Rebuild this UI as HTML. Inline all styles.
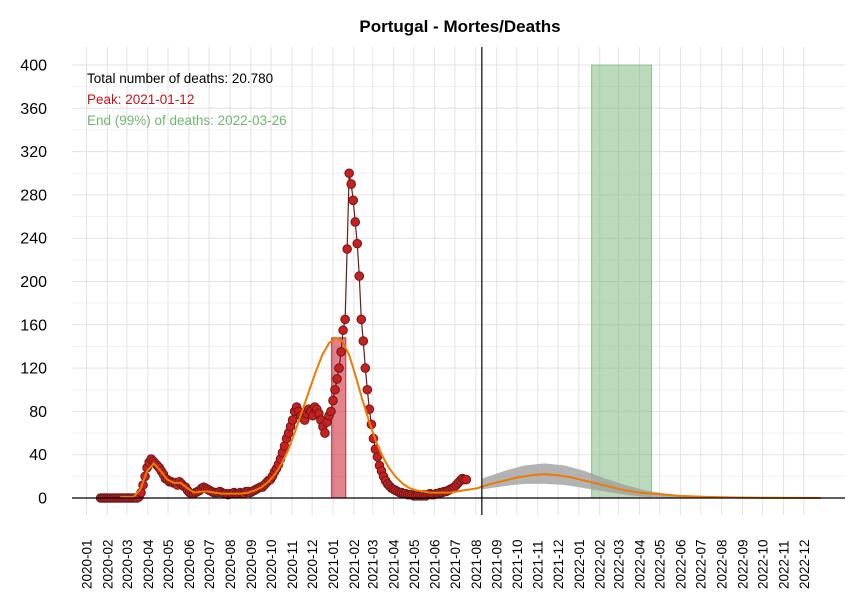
<!DOCTYPE html>
<html><head><meta charset="utf-8"><style>
body{margin:0;background:#fff;}
svg{display:block;font-family:"Liberation Sans",sans-serif;}
</style></head><body>
<svg id="chart" width="850" height="600" viewBox="0 0 850 600">
<rect width="850" height="600" fill="#fff"/>
<g id="grid"></g>
<g id="bands"></g>
<g id="series"></g>
<g id="axes"></g>
<text x="460" y="32" text-anchor="middle" font-size="17" font-weight="bold">Portugal - Mortes/Deaths</text>
<text x="87" y="83" font-size="13.5" fill="#000">Total number of deaths: 20.780</text>
<text x="87" y="104" font-size="13.5" fill="#c0141c">Peak: 2021-01-12</text>
<text x="87" y="125" font-size="13.5" fill="#72b572">End (99%) of deaths: 2022-03-26</text>
</svg>
<script>
// observed daily deaths, sampled every 3 days starting at day 21 (days since 2020-01-01)
const obsStart = 21;
const obsStep = 3;
const obsValues = [0,0,0,0,0,0,0,0,0,0,0,0,0,0,0,0,0,0,0,
1,5,12,20,28,33,36,34,32,30,28,25,22,18,17,15,15,14,14,12,15,13,11,10,7,5,4,4,5,6,7,9,10,9,8,7,6,5,5,5,6,5,4,4,3,4,4,5,4,4,5,4,4,6,6,5,6,7,8,9,10,10,12,14,16,17,20,24,27,31,36,42,48,55,60,66,72,80,84,80,76,74,72,78,82,80,76,84,82,78,72,66,60,70,76,80,90,100,110,120,135,155,165,230,300,290,275,255,235,205,165,145,120,100,82,68,55,45,38,30,25,20,16,13,11,9,8,7,6,5,5,4,4,3,3,3,2,2,3,2,2,3,2,3,4,3,3,4,4,5,5,6,6,7,8,9,10,12,14,16,18,17,17];
// fitted curve
const fitDays = [50,60,70,80,90,100,110,120,130,140,150,160,170,180,190,200,210,220,230,240,250,260,270,280,290,300,310,320,330,340,350,360,370,380,390,400,410,420,430,440,450,460,470,480,490,500,510,520,530,540,550,560,570,580,590,600,620,640,660,680,700,720,740,760,780,800,820,840,860,880,900,920,960,1000,1090];
const fitValues = [1,1,1,8,25,32,25,17,14,14,9,5,6,6,5,4,4,4,4,5,7,10,15,22,32,45,62,80,98,116,132,143,148,145,132,112,90,70,52,38,27,19,13,9,7,6,5,5,5,5,6,7,8,9,11,13,16,19,21,22,21,19,16,13,10,7,5,4,3,2,1.5,1,0.5,0.2,0];
// forecast uncertainty band
const bandDays = [588,620,650,680,710,740,770,800,830,860,890,920];
const bandUpper = [18,25,30,32,30,25,18,12,7,4,2,1];
const bandLower = [8,11,13,13,12,9,6,3,1,0.5,0.2,0];
const yTicks = [0,40,80,120,160,200,240,280,320,360,400];
const monthLabels = [];
for (let y=2020;y<=2022;y++) for (let m=1;m<=12;m++) monthLabels.push(y+'-'+String(m).padStart(2,'0'));
const peakRange = [364,385];
const endRange = [750,839];
const todayDay = 587;

const NS='http://www.w3.org/2000/svg';
const X0=86.5, DX=0.6735, Y0=498, DY=433/400;
const xs = d => X0 + d*DX;
const ys = v => Y0 - v*DY;
function mk(tag, attrs, parent){const e=document.createElementNS(NS,tag);for(const k in attrs)e.setAttribute(k,attrs[k]);document.getElementById(parent).appendChild(e);return e;}
function dayOf(lbl){const [y,m]=lbl.split('-').map(Number);return (Date.UTC(y,m-1,1)-Date.UTC(2020,0,1))/864e5;}

// grid
for (let v=0; v<=400; v+=20){
  const g=mk('line',{x1:72,x2:845,y1:ys(v),y2:ys(v),stroke:v%40?'#f0f0f0':'#e3e3e3','stroke-width':1},'grid');
  
  
}
monthLabels.forEach(l=>{
  const x=xs(dayOf(l));
  const g=mk('line',{x1:x,x2:x,y1:47,y2:515,stroke:'#e3e3e3','stroke-width':1},'grid');
  
  
  const t=mk('text',{x:0,y:0,transform:`translate(${x+5},589) rotate(-90)`,'font-size':13.5,fill:'#000'},'axes');
  t.textContent=l;
  
  
});
yTicks.forEach(v=>{
  const t=mk('text',{x:47,y:ys(v)+5.5,'text-anchor':'end','font-size':16,fill:'#000'},'axes');
  t.textContent=v;
  
  
});

// bands
let r=mk('rect',{x:xs(peakRange[0]),y:ys(148),width:xs(peakRange[1])-xs(peakRange[0]),height:ys(0)-ys(148),fill:'rgba(200,30,45,0.55)',stroke:'#c0303a','stroke-width':1},'bands');


r=mk('rect',{x:xs(endRange[0]),y:ys(400),width:xs(endRange[1])-xs(endRange[0]),height:ys(0)-ys(400),fill:'rgba(120,180,120,0.5)',stroke:'#8fbf8f','stroke-width':1},'bands');


let bp='M'+bandDays.map((d,i)=>xs(d)+','+ys(bandUpper[i])).join('L');
for(let i=bandDays.length-1;i>=0;i--) bp+='L'+xs(bandDays[i])+','+ys(bandLower[i]);
r=mk('path',{d:bp+'Z',fill:'rgba(160,160,160,0.8)'},'bands');



// observed
const pts=obsValues.map((v,i)=>[xs(obsStart+i*obsStep),ys(v)]);
r=mk('path',{d:'M'+pts.map(p=>p.join(',')).join('L'),fill:'none',stroke:'#6b1a1a','stroke-width':1.2},'series');


pts.forEach(p=>{
  const c=mk('circle',{cx:p[0],cy:p[1],r:4.3,fill:'#c82020',stroke:'#6b1a1a','stroke-width':1},'series');
  
  
});
// fit
r=mk('path',{d:'M'+fitDays.map((d,i)=>xs(d)+','+ys(fitValues[i])).join('L'),fill:'none',stroke:'#ee7a00','stroke-width':2},'series');



// axes lines
r=mk('line',{x1:72,x2:845,y1:Y0,y2:Y0,stroke:'#000','stroke-width':1.2},'axes');


r=mk('line',{x1:xs(todayDay),x2:xs(todayDay),y1:47,y2:515,stroke:'#000','stroke-width':1.2},'axes');


</script>
</body></html>
